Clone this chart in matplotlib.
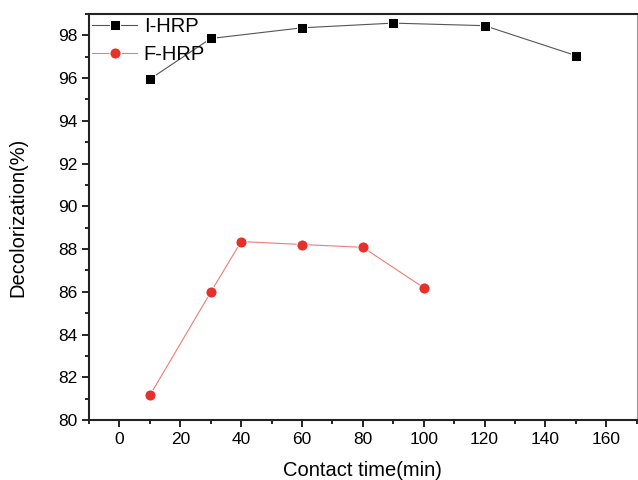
import matplotlib
matplotlib.use("Agg")
import matplotlib.pyplot as plt
from matplotlib.ticker import MultipleLocator

plt.rcParams['font.family'] = ['Liberation Sans', 'DejaVu Sans']

# data
i_time = [10, 30, 60, 90, 120, 150]
i_decol = [95.95, 97.85, 98.35, 98.57, 98.45, 97.05]
f_time = [10, 30, 40, 60, 80, 100]
f_decol = [81.15, 85.98, 88.35, 88.21, 88.08, 86.19]

fig = plt.figure(figsize=(6.38, 4.8), dpi=100)
ax = fig.add_axes([0.1395, 0.125, 0.8585, 0.846])

ax.plot(i_time, i_decol, color='#555555', lw=0.8, marker='s', ms=7,
        mfc='black', mec='white', mew=0.7, label='I-HRP')
ax.plot(f_time, f_decol, color='#f27a7a', lw=0.8, marker='o', ms=8,
        mfc='#e8302a', mec='white', mew=0.7, label='F-HRP')

ax.set_xlim(-10, 170)
ax.set_ylim(80, 99)
ax.xaxis.set_major_locator(MultipleLocator(20))
ax.xaxis.set_minor_locator(MultipleLocator(10))
ax.yaxis.set_major_locator(MultipleLocator(2))
ax.yaxis.set_minor_locator(MultipleLocator(1))
ax.tick_params(which='major', direction='out', length=5, width=1.2, labelsize=12.5)
ax.tick_params(which='minor', direction='out', length=3, width=1.2)

for s in ['left', 'bottom', 'top']:
    ax.spines[s].set_linewidth(1.5)
    ax.spines[s].set_color('#222222')
ax.spines['right'].set_linewidth(0.8)
ax.spines['right'].set_color('#999999')

ax.set_xlabel('Contact time(min)', fontsize=14.5, labelpad=10)
ax.set_ylabel('Decolorization(%)', fontsize=14.5, labelpad=22)

ax.legend(loc='upper left', frameon=False, fontsize=14.5, handlelength=2.2,
          handletextpad=0.35, borderaxespad=0.05, borderpad=0.12,
          labelspacing=0.45)

fig.savefig('out.png', dpi=100)
